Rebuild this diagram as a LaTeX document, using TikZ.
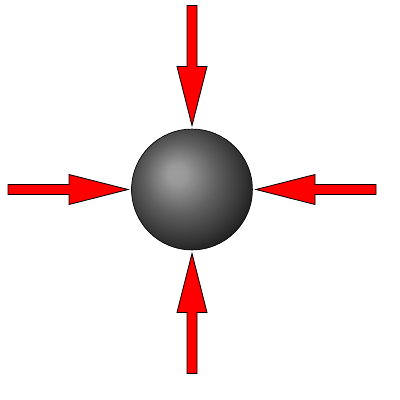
\documentclass[tikz,border=0pt]{standalone}
\usetikzlibrary{calc}
\pgfdeclareradialshading{sphereshade}{\pgfpoint{-7bp}{7bp}}{%
  color(0bp)=(black!38); color(4bp)=(black!40); color(15bp)=(black!63);
  color(25bp)=(black!80); color(33bp)=(black!95); color(50bp)=(black)}

\begin{document}
\begin{tikzpicture}[
    % one unit is one pixel of the 400x400 picture, y pointing down
    x=0.025cm, y=-0.025cm,
    ball/.style={circle, draw=black, line width=0.5pt, shading=sphereshade, minimum size=3.02cm, inner sep=0pt},
    push/.style={fill=red, draw=black, line width=0.6pt, line join=miter}
]
    \useasboundingbox (0,0) rectangle (400,400);

    \node[ball] (sphere) at (192,189.5) {};

    % four arrows pressing on the sphere
    \foreach \ang/\name in {0/right, 90/top, 180/left, 270/bottom} {
        \begin{scope}[shift={(sphere.center)}, rotate=\ang]
            \coordinate (\name tip) at (64,0);
            \draw[push] (\name tip) -- (123,15) -- (123,5) -- (184,5)
                -- (184,-5) -- (123,-5) -- (123,-15) -- cycle;
        \end{scope}
    }
\end{tikzpicture}
\end{document}
